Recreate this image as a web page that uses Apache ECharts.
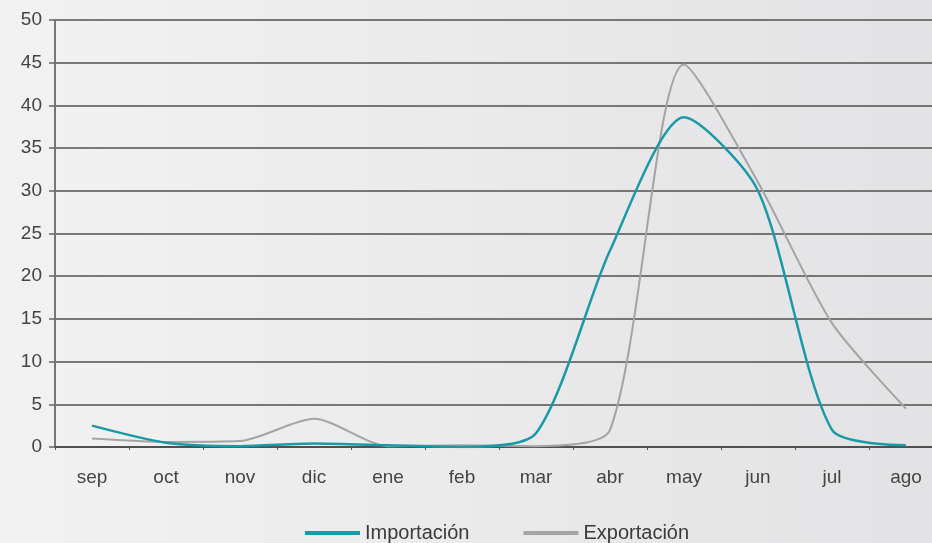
<!DOCTYPE html>
<html>
<head>
<meta charset="utf-8">
<script src="https://cdn.jsdelivr.net/npm/echarts@6/dist/echarts.min.js"></script>
<style>
  html, body { margin: 0; padding: 0; }
  #main { width: 932px; height: 543px; }
</style>
</head>
<body>
<div id="main"></div>
<script>
// meses (sep -> ago)
const months = ['sep', 'oct', 'nov', 'dic', 'ene', 'feb', 'mar', 'abr', 'may', 'jun', 'jul', 'ago'];
const importacion = [2.5, 0.5, 0.1, 0.4, 0.2, 0.0, 1.6, 23.0, 38.6, 30.0, 2.0, 0.2];
const exportacion = [1.0, 0.6, 0.7, 3.3, 0.1, 0.2, 0.1, 2.0, 44.8, 31.0, 14.5, 4.5];

const chart = echarts.init(document.getElementById('main'));

const option = {
  backgroundColor: {
    type: 'linear', x: 0, y: 0, x2: 1, y2: 0,
    colorStops: [
      { offset: 0, color: '#f2f2f3' },
      { offset: 1, color: '#e3e3e5' }
    ]
  },
  animation: false,
  textStyle: { fontFamily: 'Liberation Sans' },
  grid: {
    left: 55,
    top: 20,
    width: 888,
    height: 427,
    outerBoundsMode: 'none'   // la rejilla sigue más allá del borde derecho
  },
  legend: {
    top: 518,
    left: 300,
    icon: 'rect',
    itemWidth: 55,
    itemHeight: 4,
    itemGap: 54,
    textStyle: { fontSize: 20, color: '#3a3a3a' },
    data: ['Importación', 'Exportación']
  },
  xAxis: {
    type: 'category',
    data: months,
    boundaryGap: true,
    axisLine: { lineStyle: { color: '#505050', width: 2 } },
    axisTick: { show: true, length: 3, lineStyle: { color: '#555', width: 1 } },
    axisLabel: { color: '#444', fontSize: 19, margin: 21 }
  },
  yAxis: {
    type: 'value',
    min: 0,
    max: 50,
    interval: 5,
    axisLine: { show: true, lineStyle: { color: '#777', width: 2 } },
    axisTick: { show: true, length: 6, lineStyle: { color: '#666', width: 1.5 } },
    axisLabel: { color: '#444', fontSize: 19, margin: 13 },
    splitLine: { lineStyle: { color: '#505050', width: 1.6 } }
  },
  series: [
    {
      name: 'Importación',
      type: 'line',
      data: importacion,
      smooth: 0.25,
      showSymbol: false,
      symbol: 'none',
      itemStyle: { color: '#1a9aa7' },
      lineStyle: { color: '#1a9aa7', width: 2.5 },
      z: 3
    },
    {
      name: 'Exportación',
      type: 'line',
      data: exportacion,
      smooth: 0.25,
      showSymbol: false,
      symbol: 'none',
      itemStyle: { color: '#a4a4a4' },
      lineStyle: { color: '#a4a4a4', width: 2 },
      z: 2
    }
  ]
};

chart.setOption(option);
</script>
</body>
</html>
